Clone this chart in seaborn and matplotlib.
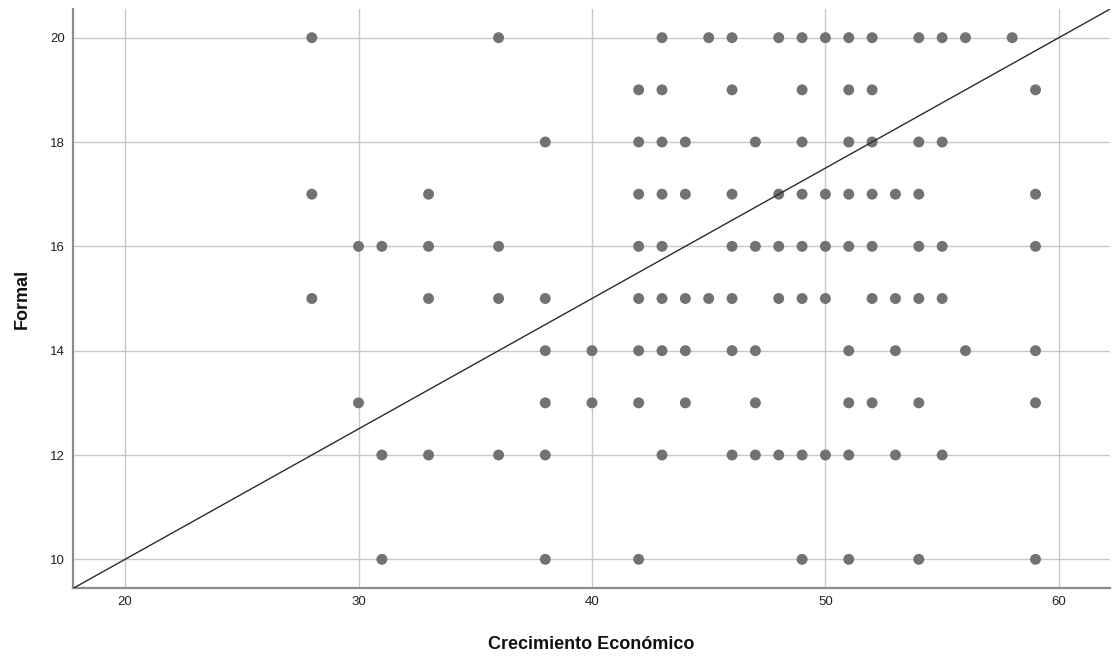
import matplotlib
matplotlib.use("Agg")
import matplotlib.pyplot as plt
import seaborn as sns
import pandas as pd

# Crecimiento Económico scores observed at each Formal score
formal_levels = [20, 19, 18, 17, 16, 15, 14, 13, 12, 10]
crec_at_20 = [28, 36, 43, 45, 46, 48, 49, 50, 51, 52, 54, 55, 56, 58]
crec_at_19 = [42, 43, 46, 49, 51, 52, 59]
crec_at_18 = [38, 42, 43, 44, 47, 49, 51, 52, 54, 55]
crec_at_17 = [28, 33, 42, 43, 44, 46, 48, 49, 50, 51, 52, 53, 54, 59]
crec_at_16 = [30, 31, 33, 36, 42, 43, 46, 47, 48, 49, 50, 51, 52, 54, 55, 59]
crec_at_15 = [28, 33, 36, 38, 42, 43, 44, 45, 46, 48, 49, 50, 52, 53, 54, 55]
crec_at_14 = [38, 40, 42, 43, 44, 46, 47, 51, 53, 56, 59]
crec_at_13 = [30, 38, 40, 42, 44, 47, 51, 52, 54, 59]
crec_at_12 = [31, 33, 36, 38, 43, 46, 47, 48, 49, 50, 51, 53, 55]
crec_at_10 = [31, 38, 42, 49, 51, 54, 59]

crec_groups = [crec_at_20, crec_at_19, crec_at_18, crec_at_17, crec_at_16,
               crec_at_15, crec_at_14, crec_at_13, crec_at_12, crec_at_10]

x_ticks = [20, 30, 40, 50, 60]
y_ticks = [10, 12, 14, 16, 18, 20]

# Reference line: passes through (20, 10) with slope 0.25
ref_point = (20, 10)
ref_slope = 0.25

rows = []
for level, xs in zip(formal_levels, crec_groups):
    for xv in xs:
        rows.append({"Crecimiento Económico": xv, "Formal": level})
df = pd.DataFrame(rows)

sns.set_theme(style="white")
plt.rcParams["font.family"] = ["Liberation Sans", "DejaVu Sans"]

fig = plt.figure(figsize=(11.13, 6.61), dpi=100)
ax = fig.add_axes([0.0656, 0.1104, 0.9317, 0.876])

ax.set_axisbelow(True)
ax.grid(True, color="#c8c8c8", linewidth=1.0)

sns.scatterplot(data=df, x="Crecimiento Económico", y="Formal", ax=ax,
                color="#727272", s=62, edgecolor="none", linewidth=0, zorder=3)

ax.axline(ref_point, slope=ref_slope, color="#2b2b2b", linewidth=1.0, zorder=4)

ax.set_xlim(17.77, 62.19)
ax.set_ylim(9.45, 20.55)
ax.set_xticks(x_ticks)
ax.set_yticks(y_ticks)
ax.tick_params(axis="both", length=0, labelsize=9.5, colors="#222222", pad=6)

for side in ("top", "right"):
    ax.spines[side].set_visible(False)
for side in ("left", "bottom"):
    ax.spines[side].set_color("#8c8c8c")
    ax.spines[side].set_linewidth(1.6)

ax.set_xlabel("Crecimiento Económico", fontsize=13, fontweight="bold",
              color="#111111", labelpad=20)
ax.set_ylabel("Formal", fontsize=13, fontweight="bold",
              color="#111111", labelpad=14)

fig.savefig("out.png", dpi=100)
